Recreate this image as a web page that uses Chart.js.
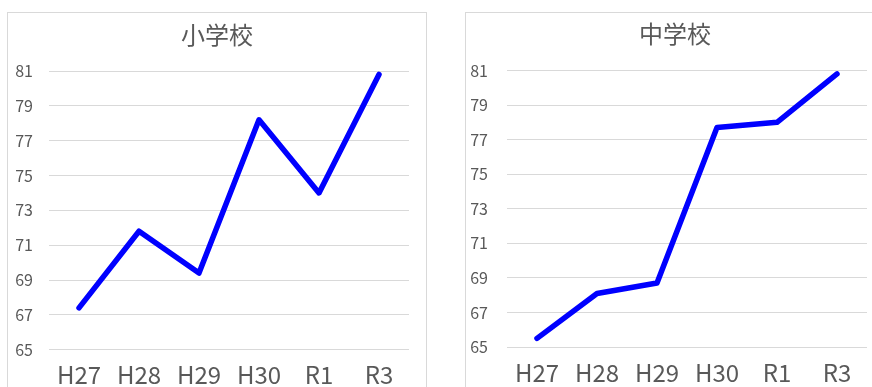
<!DOCTYPE html>
<html>
<head>
<meta charset="utf-8">
<script src="https://cdn.jsdelivr.net/npm/chart.js@4"></script>
<style>
  html, body { margin: 0; padding: 0; background: #fff; overflow: hidden; }
  .box { position: absolute; top: 12px; width: 418px; height: 380px; border: 1px solid #d9d9d9; background: #fff; }
  #boxE { left: 7px; }
  #boxJ { left: 465px; }
  canvas { display: block; }
</style>
</head>
<body>
<div class="box" id="boxE"><canvas id="elem" width="418" height="380"></canvas></div>
<div class="box" id="boxJ"><canvas id="junior" width="418" height="380"></canvas></div>
<script>
// School years shown on the category axis
const years = ['H27', 'H28', 'H29', 'H30', 'R1', 'R3'];
// Values per school level
const elementaryValues = [67.4, 71.8, 69.4, 78.2, 74.0, 80.8];
const juniorValues = [65.5, 68.1, 68.7, 77.7, 78.0, 80.8];
// Value axis range and step
const axisMin = 65;
const axisMax = 81;
const axisStep = 2;

const textColor = '#595959';
const gridColor = '#d9d9d9';
const fontFamily = '"Noto Sans CJK JP", "Noto Sans", sans-serif';

function makeChart(canvasId, title, values, opts) {
  return new Chart(document.getElementById(canvasId), {
    type: 'line',
    data: {
      labels: years,
      datasets: [{
        label: title,
        data: values,
        borderColor: '#0000ff',
        backgroundColor: '#0000ff',
        borderWidth: 5.5,
        borderCapStyle: 'round',
        borderJoinStyle: 'round',
        pointRadius: 0,
        pointHoverRadius: 0,
        tension: 0,
        fill: false
      }]
    },
    options: {
      responsive: false,
      animation: false,
      events: [],
      layout: { padding: 0 },
      plugins: {
        legend: { display: false },
        tooltip: { enabled: false },
        title: {
          display: true,
          text: title,
          color: textColor,
          font: { family: fontFamily, size: 24, weight: 'normal' },
          padding: { top: opts.titleTop, bottom: opts.titleBottom }
        }
      },
      scales: {
        x: {
          offset: true,
          grid: { display: false, drawTicks: false },
          border: { display: false },
          ticks: {
            color: textColor,
            font: { family: fontFamily, size: 24 },
            padding: opts.xPad,
            maxRotation: 0,
            autoSkip: false
          },
          afterFit: s => { s.height = opts.xHeight; }
        },
        y: {
          min: axisMin,
          max: axisMax,
          grid: { color: gridColor, lineWidth: 1, drawTicks: false },
          border: { display: false },
          ticks: {
            stepSize: axisStep,
            color: textColor,
            font: { family: fontFamily, size: 16 },
            padding: opts.yPad
          },
          afterFit: s => { s.width = 41; }
        },
        // empty right-hand axis that only reserves the right margin
        gap: {
          position: 'right',
          grid: { display: false, drawTicks: false },
          border: { display: false },
          ticks: { display: false },
          afterFit: s => { s.width = 17; }
        }
      }
    }
  });
}

makeChart('elem', '小学校', elementaryValues, { titleTop: 7.6, titleBottom: 21.6, xHeight: 43.3, xPad: 11, yPad: 16 });
makeChart('junior', '中学校', juniorValues, { titleTop: 6.6, titleBottom: 22.1, xHeight: 46, xPad: 11, yPad: 19 });
</script>
</body>
</html>
